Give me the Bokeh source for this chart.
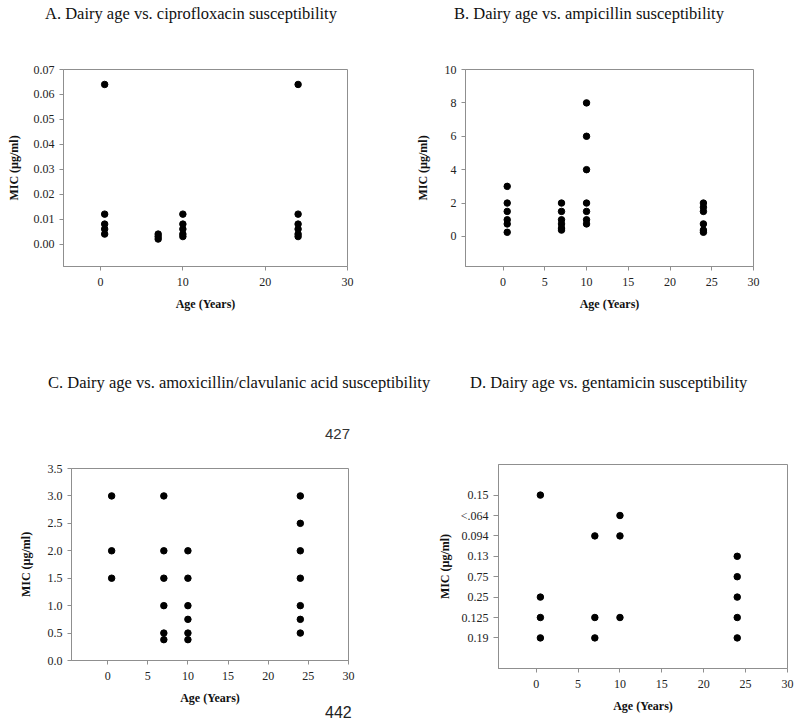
from bokeh.embed import file_html
from bokeh.resources import INLINE
from bokeh.plotting import figure
from bokeh.layouts import column, row
from bokeh.models import Range1d, FactorRange, FixedTicker, PrintfTickFormatter, Div

SERIF = "Liberation Serif"
SANS = "Liberation Sans"
GRAY = "#8f8f8f"

# A. ciprofloxacin
a_age = [0.5, 0.5, 0.5, 0.5, 0.5, 7, 7, 7, 10, 10, 10, 10, 10, 24, 24, 24, 24, 24, 24]
a_mic = [0.064, 0.012, 0.008, 0.006, 0.004, 0.004, 0.003, 0.002,
         0.012, 0.008, 0.006, 0.004, 0.003, 0.064, 0.012, 0.008, 0.006, 0.004, 0.003]

# B. ampicillin
b_age = [0.5, 0.5, 0.5, 0.5, 0.5, 0.5, 7, 7, 7, 7, 7, 7,
         10, 10, 10, 10, 10, 10, 10, 24, 24, 24, 24, 24, 24]
b_mic = [3, 2, 1.5, 1, 0.75, 0.25, 2, 1.5, 1, 0.75, 0.5, 0.38,
         8, 6, 4, 2, 1.5, 1, 0.75, 2, 1.75, 1.5, 0.75, 0.38, 0.25]

# C. amoxicillin/clavulanic acid
c_age = [0.5, 0.5, 0.5, 7, 7, 7, 7, 7, 7, 10, 10, 10, 10, 10, 10,
         24, 24, 24, 24, 24, 24, 24]
c_mic = [3, 2, 1.5, 3, 2, 1.5, 1, 0.5, 0.38, 2, 1.5, 1, 0.75, 0.5, 0.38,
         3, 2.5, 2, 1.5, 1, 0.75, 0.5]

# D. gentamicin (categorical axis, bottom to top)
d_levels = ["0.19", "0.125", "0.25", "0.75", "0.13", "0.094", "<.064", "0.15"]
d_age = [0.5, 0.5, 0.5, 0.5, 7, 7, 7, 10, 10, 10, 24, 24, 24, 24, 24]
d_mic = ["0.15", "0.25", "0.125", "0.19", "0.094", "0.125", "0.19",
         "<.064", "0.094", "0.125", "0.13", "0.75", "0.25", "0.125", "0.19"]

titles = ["A. Dairy age vs. ciprofloxacin susceptibility",
          "B. Dairy age vs. ampicillin susceptibility",
          "C. Dairy age vs. amoxicillin/clavulanic acid susceptibility",
          "D. Dairy age vs. gentamicin susceptibility"]
page_numbers = ["427", "442"]


def span(left, top, text, font=SERIF, size="16.5px", color="#111111"):
    return ('<span style="position:absolute;left:%dpx;top:%dpx;white-space:nowrap;'
            'font-family:\'%s\';font-size:%s;line-height:19px;color:%s">%s</span>'
            % (left, top, font, size, color, text))


def text_box(width, height, spans):
    html = ('<div style="position:relative;width:%dpx;height:%dpx">%s</div>'
            % (width, height, "".join(spans)))
    return Div(text=html, width=width, height=height, margin=(0, 0, 0, 0))


def panel(height, y_range, borders, label_standoff):
    left, right, top, bottom = borders
    p = figure(width=400, height=height, x_range=Range1d(-4.5, 30), y_range=y_range,
               output_backend="svg", toolbar_location=None, title=None,
               min_border_left=left, min_border_right=right,
               min_border_top=top, min_border_bottom=bottom,
               x_axis_label="Age (Years)", y_axis_label="MIC (\u00b5g/ml)")
    p.outline_line_color = GRAY
    p.xgrid.visible = False
    p.ygrid.visible = False
    for ax in (p.xaxis[0], p.yaxis[0]):
        ax.axis_line_color = GRAY
        ax.major_tick_line_color = GRAY
        ax.minor_tick_line_color = None
        ax.major_tick_out = 4
        ax.major_tick_in = 0
        ax.major_label_standoff = 5
        ax.major_label_text_font = SERIF
        ax.major_label_text_font_size = "12px"
        ax.major_label_text_color = "#222222"
        ax.axis_label_text_font = SERIF
        ax.axis_label_text_font_style = "bold"
        ax.axis_label_text_font_size = "12px"
        ax.axis_label_text_color = "#111111"
    p.xaxis[0].major_label_standoff = 7
    p.xaxis[0].axis_label_standoff = 8
    p.yaxis[0].axis_label_standoff = label_standoff
    return p


top_titles = text_box(800, 50, [span(45, 4, titles[0]), span(454, 4, titles[1])])

pa = panel(318, Range1d(-0.009, 0.07), (63, 53, 18, 102), 10)
pa.xaxis[0].ticker = FixedTicker(ticks=[0, 10, 20, 30])
pa.yaxis[0].ticker = FixedTicker(ticks=[0, 0.01, 0.02, 0.03, 0.04, 0.05, 0.06, 0.07])
pa.yaxis[0].formatter = PrintfTickFormatter(format="%.2f")
pa.scatter(a_age, a_mic, size=6.5, color="black")

pb = panel(318, Range1d(-1.8, 10), (65, 47, 19, 98), 12)
pb.xaxis[0].ticker = FixedTicker(ticks=[0, 5, 10, 15, 20, 25, 30])
pb.yaxis[0].ticker = FixedTicker(ticks=[0, 2, 4, 6, 8, 10])
pb.scatter(b_age, b_mic, size=6.5, color="black")

bottom_titles = text_box(800, 87, [span(48, 5, titles[2]), span(470, 5, titles[3]),
                                   span(325, 56, page_numbers[0], SANS, "15px", "#333333")])

pc = panel(252, Range1d(0, 3.5), (71, 52, 13, 45), 12)
pc.xaxis[0].ticker = FixedTicker(ticks=[0, 5, 10, 15, 20, 25, 30])
pc.yaxis[0].ticker = FixedTicker(ticks=[0, 0.5, 1, 1.5, 2, 2.5, 3, 3.5])
pc.yaxis[0].formatter = PrintfTickFormatter(format="%.1f")
pc.scatter(c_age, c_mic, size=6.5, color="black")

foot = text_box(400, 18, [span(325, -4, page_numbers[1], SANS, "16px", "#222222")])

pd_ = panel(270, FactorRange(factors=d_levels, range_padding=1,
                             range_padding_units="absolute"),
            (98, 13, 9, 57), 6)
pd_.yaxis[0].major_tick_out = 5
pd_.xaxis[0].ticker = FixedTicker(ticks=[0, 5, 10, 15, 20, 25, 30])
pd_.scatter(d_age, d_mic, size=6.5, color="black")

layout = column(top_titles, row(pa, pb), bottom_titles, row(column(pc, foot), pd_))
open("out.html", "w").write(file_html(layout, INLINE))
